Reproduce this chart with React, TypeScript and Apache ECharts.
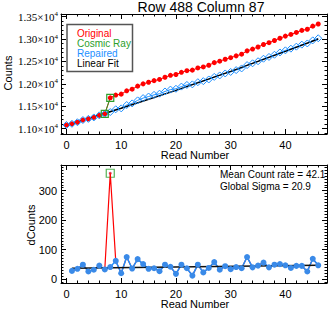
import React, { useEffect, useRef } from 'react';
import * as echarts from 'echarts';

const readNumbers = [0, 1, 2, 3, 4, 5, 6, 7, 8, 9, 10, 11, 12, 13, 14, 15, 16, 17, 18, 19, 20, 21, 22, 23, 24, 25, 26, 27, 28, 29, 30, 31, 32, 33, 34, 35, 36, 37, 38, 39, 40, 41, 42, 43, 44, 45, 46];
const originalCounts = [11080, 11108, 11143, 11192, 11218, 11250, 11296, 11329, 11688, 11750, 11770, 11845, 11881, 11949, 12000, 12035, 12072, 12099, 12148, 12190, 12208, 12257, 12294, 12306, 12355, 12378, 12416, 12474, 12506, 12550, 12584, 12625, 12662, 12737, 12777, 12823, 12879, 12919, 12968, 13019, 13066, 13104, 13149, 13194, 13220, 13289, 13336];
const repairedCounts = [11080, 11108, 11143, 11192, 11218, 11250, 11296, 11329, 11370, 11432, 11452, 11527, 11563, 11631, 11682, 11717, 11754, 11781, 11830, 11872, 11890, 11939, 11976, 11988, 12037, 12060, 12098, 12156, 12188, 12232, 12266, 12307, 12344, 12419, 12459, 12505, 12561, 12601, 12650, 12701, 12748, 12786, 12831, 12876, 12902, 12971, 13018];
const fitReads = [0, 10, 20, 30, 40, 46];
const fitCounts = [11075, 11454, 11855, 12279, 12725, 13003];
const cosmicReads = [7, 8];
const cosmicCounts = [11329, 11688];

const diffReads = [1, 2, 3, 4, 5, 6, 7, 8, 9, 10, 11, 12, 13, 14, 15, 16, 17, 18, 19, 20, 21, 22, 23, 24, 25, 26, 27, 28, 29, 30, 31, 32, 33, 34, 35, 36, 37, 38, 39, 40, 41, 42, 43, 44, 45, 46];
const originalDiffs = [28, 35, 49, 26, 32, 46, 33, 359, 62, 20, 75, 36, 68, 51, 35, 37, 27, 49, 42, 18, 49, 37, 12, 49, 23, 38, 58, 32, 44, 34, 41, 37, 75, 40, 46, 56, 40, 49, 51, 47, 38, 45, 45, 26, 69, 47];
const repairedDiffs = [28, 35, 49, 26, 32, 46, 33, 41, 62, 20, 75, 36, 68, 51, 35, 37, 27, 49, 42, 18, 49, 37, 12, 49, 23, 38, 58, 32, 44, 34, 41, 37, 75, 40, 46, 56, 40, 49, 51, 47, 38, 45, 45, 26, 69, 47];
const diffFitReads = [1, 46];
const diffFitValues = [37, 47];
const cosmicDiffReads = [8];
const cosmicDiffValues = [359];

const xMajorTicks = [0, 10, 20, 30, 40];
const xMinorTicks = [2, 4, 6, 8, 12, 14, 16, 18, 22, 24, 26, 28, 32, 34, 36, 38, 42, 44, 46];
const countMajorTicks = [11000, 11500, 12000, 12500, 13000, 13500];
const dMajorTicks = [0, 100, 200, 300];

const legendLabels = ['Original', 'Cosmic Ray', 'Repaired', 'Linear Fit'];
const titleText = 'Row 488 Column 87';
const meanText = 'Mean Count rate = 42.1';
const sigmaText = 'Global Sigma = 20.9';

const RED = '#ff0000';
const GREEN = '#2ca02c';
const BLUE = '#1e90ff';
const SANS = '"Liberation Sans", Arial, sans-serif';
const SERIF = '"Liberation Serif", "Times New Roman", serif';

function minorsBetween(min: number, max: number, step: number, majors: number[]) {
  const out: number[] = [];
  for (let v = Math.ceil(min / step) * step; v <= max; v += step) {
    if (!majors.includes(v)) out.push(v);
  }
  return out;
}

function zip(xs: number[], ys: number[]) {
  return xs.map((x, i) => [x, ys[i]]);
}

function makeAxes(kind: 'x' | 'y', gridIndex: number, min: number, max: number, majors: number[], minors: number[], label: any) {
  const positions = kind === 'x' ? ['bottom', 'top'] : ['left', 'right'];
  const common = { type: 'value', gridIndex, min, max, splitLine: { show: false }, axisPointer: { show: false } };
  const res: any[] = [];
  positions.forEach((pos, pi) => {
    res.push({
      ...common,
      position: pos,
      axisLine: { show: true, onZero: false, lineStyle: { color: '#000', width: 1 } },
      axisTick: { show: true, inside: true, length: 5, customValues: majors, lineStyle: { color: '#000', width: 1 } },
      axisLabel: pi === 0 ? { ...label, customValues: majors } : { show: false },
    });
    res.push({
      ...common,
      position: pos,
      axisLine: { show: false, onZero: false },
      axisTick: { show: true, inside: true, length: 2.5, customValues: minors, lineStyle: { color: '#000', width: 1 } },
      axisLabel: { show: false },
    });
  });
  return res;
}

export default function App() {
  const ref = useRef<HTMLDivElement>(null);
  useEffect(() => {
    if (!ref.current) return;
    const chart = echarts.init(ref.current, undefined, { renderer: 'svg' });
    const xMin = -1;
    const xMax = 47.6;
    const cMin = 10880;
    const cMax = 13560;
    const dMin = -13;
    const dMax = 387;
    const xLabel = { show: true, margin: 5, fontFamily: SANS, fontSize: 11, color: '#000' };
    const countLabel = {
      show: true,
      margin: 3,
      formatter: (v: number) => `{m|${(v / 10000).toFixed(2)}×10}{s|4}`,
      rich: {
        m: { fontFamily: SERIF, fontSize: 11, color: '#000', lineHeight: 12 },
        s: { fontFamily: SERIF, fontSize: 7, color: '#000', lineHeight: 7, verticalAlign: 'top' },
      },
    };
    const dLabel = { show: true, margin: 4, fontFamily: SANS, fontSize: 11, color: '#000' };

    const xAxes = [
      ...makeAxes('x', 0, xMin, xMax, xMajorTicks, xMinorTicks, xLabel),
      ...makeAxes('x', 1, xMin, xMax, xMajorTicks, xMinorTicks, xLabel),
    ];
    const yAxes = [
      ...makeAxes('y', 0, cMin, cMax, countMajorTicks, minorsBetween(cMin, cMax, 100, countMajorTicks), countLabel),
      ...makeAxes('y', 1, dMin, dMax, dMajorTicks, minorsBetween(dMin, dMax, 10, dMajorTicks), dLabel),
    ];

    const text = (t: string, x: number, y: number, size: number, fill = '#000', align = 'left', rotation = 0, lineHeight?: number) => ({
      type: 'text',
      x,
      y,
      rotation,
      silent: true,
      style: { text: t, font: `${size}px ${SANS}`, fill, textAlign: align, textVerticalAlign: 'middle', ...(lineHeight ? { lineHeight } : {}) },
    });
    const legendColors = [RED, GREEN, BLUE, '#000'];

    chart.setOption({
      animation: false,
      backgroundColor: '#fff',
      grid: [
        { left: 61, right: 9, top: 14, height: 120, outerBoundsMode: 'none', containLabel: false },
        { left: 61, right: 9, top: 165, height: 118, outerBoundsMode: 'none', containLabel: false },
      ],
      xAxis: xAxes,
      yAxis: yAxes,
      series: [
        {
          type: 'line', xAxisIndex: 0, yAxisIndex: 0, silent: true,
          data: zip(readNumbers, originalCounts),
          symbol: 'circle', symbolSize: 5,
          itemStyle: { color: RED },
          lineStyle: { color: RED, width: 1 },
        },
        {
          type: 'line', xAxisIndex: 0, yAxisIndex: 0, silent: true,
          data: zip(readNumbers, repairedCounts),
          symbol: 'diamond', symbolSize: 7,
          itemStyle: { color: 'rgba(0,0,0,0)', borderColor: BLUE, borderWidth: 1 },
          lineStyle: { color: BLUE, width: 1 },
        },
        {
          type: 'line', xAxisIndex: 0, yAxisIndex: 0, silent: true,
          data: zip(fitReads, fitCounts),
          symbol: 'none',
          lineStyle: { color: '#000', width: 1.5 },
        },
        {
          type: 'line', xAxisIndex: 0, yAxisIndex: 0, silent: true,
          data: zip(cosmicReads, cosmicCounts),
          symbol: 'rect', symbolSize: 7,
          itemStyle: { color: 'rgba(0,0,0,0)', borderColor: GREEN, borderWidth: 1.2 },
          lineStyle: { color: GREEN, width: 1 },
        },
        {
          type: 'line', xAxisIndex: 4, yAxisIndex: 4, silent: true,
          data: zip(diffReads, originalDiffs),
          symbol: 'none',
          lineStyle: { color: RED, width: 1.2 },
        },
        {
          type: 'line', xAxisIndex: 4, yAxisIndex: 4, silent: true,
          data: zip(diffReads, repairedDiffs),
          symbol: 'circle', symbolSize: 6,
          itemStyle: { color: '#3a8ae8' },
          lineStyle: { color: BLUE, width: 1.5 },
        },
        {
          type: 'line', xAxisIndex: 4, yAxisIndex: 4, silent: true,
          data: zip(diffFitReads, diffFitValues),
          symbol: 'none',
          lineStyle: { color: '#111', width: 1.6 },
        },
        {
          type: 'scatter', xAxisIndex: 4, yAxisIndex: 4, silent: true,
          data: zip(cosmicDiffReads, cosmicDiffValues),
          symbol: 'rect', symbolSize: 8,
          itemStyle: { color: 'rgba(0,0,0,0)', borderColor: GREEN, borderWidth: 1.2 },
        },
        {
          type: 'scatter', xAxisIndex: 4, yAxisIndex: 4, silent: true,
          data: zip(diffReads, originalDiffs),
          symbol: 'circle', symbolSize: 3,
          itemStyle: { color: '#d8163a' },
        },
      ],
      graphic: [
        text(titleText, 201, 7, 14, '#000', 'center'),
        text('Counts', 8, 73, 11, '#000', 'center', Math.PI / 2),
        text('Read Number', 195, 155, 11, '#000', 'center'),
        text('dCounts', 31, 225, 11, '#000', 'center', Math.PI / 2),
        text('Read Number', 195, 304, 11, '#000', 'center'),
        {
          type: 'rect', silent: true,
          shape: { x: 67, y: 24.5, width: 65.5, height: 47 },
          style: { fill: '#fff', stroke: '#555', lineWidth: 1.5 },
        },
        ...legendLabels.map((l, i) => text(l, 77, 33.5 + i * 10, 10, legendColors[i], 'left', 0, 10)),
        text(meanText, 220, 174, 10, '#000', 'left', 0, 11),
        text(sigmaText, 220, 186, 10, '#000', 'left', 0, 11),
      ],
    });
    return () => chart.dispose();
  }, []);
  return <div ref={ref} style={{ position: 'fixed', left: 0, top: 0, width: 336, height: 312 }} />;
}
